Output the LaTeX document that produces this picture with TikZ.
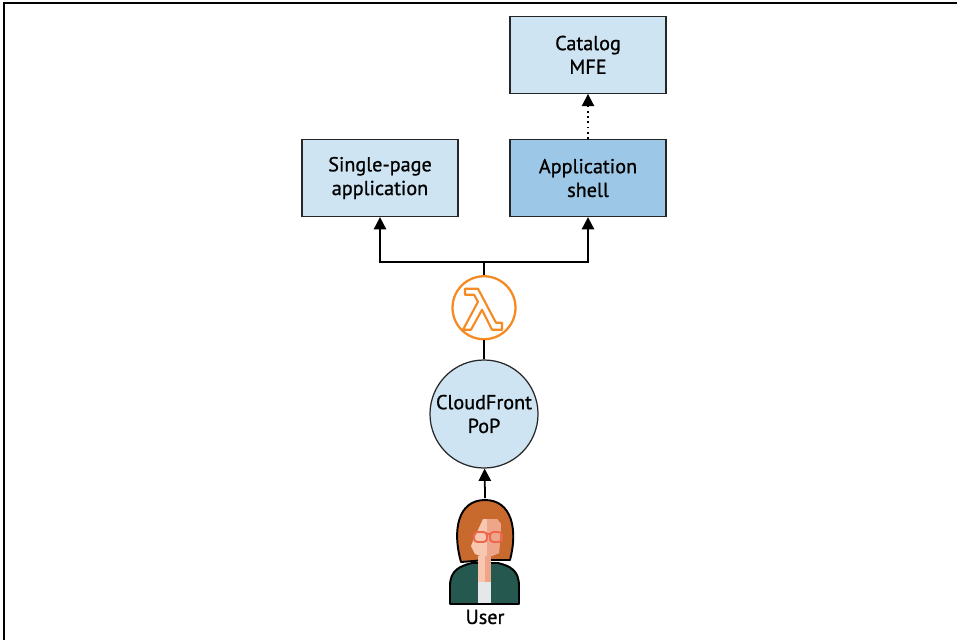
\documentclass[tikz,border=0pt]{standalone}
\usepackage{fontspec}
\setmainfont{PT Sans}
\newfontfamily\labelfont{PT Sans}[FakeBold=0.9]
\usetikzlibrary{positioning}
\usetikzlibrary{arrows.meta}
\usetikzlibrary{shapes}
\definecolor{paleblue}{HTML}{CFE4F2}
\definecolor{midblue}{HTML}{9DC7E6}
\definecolor{lambdaorange}{HTML}{F58A22}
\definecolor{hairbrown}{HTML}{C8692D}
\definecolor{skinlight}{HTML}{F7C7AF}
\definecolor{skindark}{HTML}{EDA68A}
\definecolor{glassred}{HTML}{F0654D}
\definecolor{jacketgreen}{HTML}{25584E}
\definecolor{shirtgrey}{HTML}{E6E7E8}
\tikzset{basic/.style={draw=black!85,line width=0.7pt,align=center,font=\labelfont\fontsize{11.5}{13.5}\selectfont,inner sep=1pt}}
\tikzset{block/.style={basic,rectangle,fill=paleblue,minimum width=3.12cm,minimum height=1.54cm}}
\tikzset{shellblock/.style={block,fill=midblue}}
\tikzset{popnode/.style={basic,circle,fill=paleblue,minimum size=1.84cm}}
\tikzset{edgenode/.style={circle,draw=lambdaorange,line width=1.3pt,fill=white,minimum size=1.26cm}}
\tikzset{flow/.style={line width=1pt,-{Triangle[width=7pt,length=7pt]}}}
\tikzset{outline/.style={draw=black,line width=1.1pt,line join=round}}

\begin{document}
\begin{tikzpicture}[x=0.02cm,y=-0.02cm]
        \useasboundingbox (0,0) rectangle (957,640);
        \draw[line width=0.9pt] (4,640) -- (4,3) -- (957,3);
        % request path
        \node[popnode] (pop) at (484,414) {CloudFront\\PoP};
        \node[edgenode,above=0.38cm of pop] (lambda) {};
            \draw[lambdaorange,line width=1.2pt,line join=round] ([shift={(-19,-19)}]lambda.center)
                -- ++(13,0) -- ++(18,34) -- ++(6,0) -- ++(0,7) -- ++(-10,0) -- ++(-10,-20)
                -- ++(-11,20) -- ++(-8,0) -- ++(15,-28) -- ++(-4,-7) -- ++(-9,0) -- cycle;
        \node[block] (spa) at (380,178) {Single-page\\application};
        \node[shellblock] (shell) at (588,178) {Application\\shell};
        \node[block,above=0.9cm of shell] (catalog) {Catalog\\MFE};
        \coordinate (fork) at (lambda.north |- 0,262);
            \path[draw,line width=1pt] (lambda) -- (fork);
            \path[draw,line width=1pt] (pop) -- (lambda);
            \path[draw,flow] (fork) -| (spa);
            \path[draw,flow] (fork) -| (shell);
            \path[draw,flow,dotted] (shell) -- (catalog);
        % the user
        \draw[outline,fill=hairbrown] (461,562) .. controls (452,530) and (458,500) .. (485,500)
            .. controls (512,500) and (518,530) .. (510,560) -- (486,560) -- cycle;
        \fill[skinlight] (483,519) .. controls (478,530) and (474,538) .. (471,546)
            -- (475,554) -- (486,558) -- (499,553) -- (501,524) -- (497,519) -- cycle;
        \fill[skindark] (487,519) -- (497,519) -- (501,524) -- (499,553) -- (487,558) -- cycle;
        \draw[glassred,line width=1.1pt,rounded corners=2pt] (474,532) rectangle (487,542);
        \draw[glassred,line width=1.1pt,rounded corners=2pt] (490,532) rectangle (502,542);
        \draw[glassred,line width=1.1pt] (487,534) -- (490,534);
        \draw[outline,fill=jacketgreen] (450,604) -- (450,586) .. controls (450,570) and (460,566) .. (472,563)
            -- (498,563) .. controls (510,566) and (519,570) .. (519,586) -- (519,604) -- cycle;
        \fill[skinlight] (478,556) rectangle (485,582);
        \fill[skindark] (485,556) rectangle (491,582);
        \fill[shirtgrey] (478,582) rectangle (491,603);
        \node[font=\labelfont\fontsize{11.5}{13.5}\selectfont] (user) at (485,617) {User};
        \coordinate (usertop) at (485,498);
            \path[draw,flow] (usertop) -- (pop);
    \end{tikzpicture}
\end{document}
